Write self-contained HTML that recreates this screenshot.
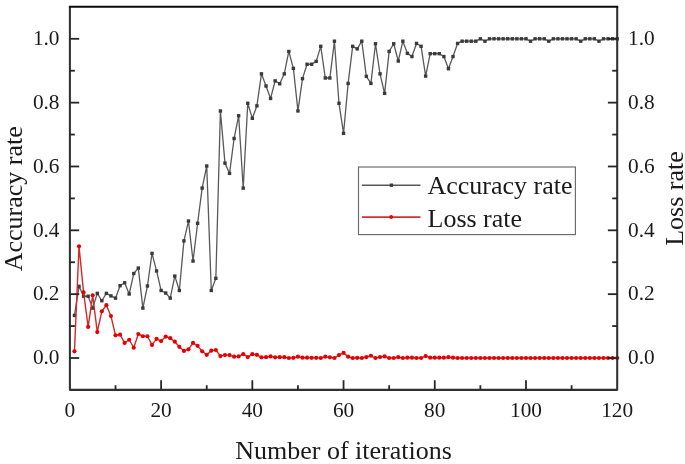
<!DOCTYPE html>
<html><head><meta charset="utf-8"><style>
html,body{margin:0;padding:0;background:#fff;}
body{width:685px;height:464px;overflow:hidden;}
svg{display:block;will-change:transform;}
.t{font-family:"Liberation Serif",serif;font-size:21.3px;fill:#1a1a1a;}
.T{font-family:"Liberation Serif",serif;font-size:26px;fill:#1a1a1a;}
</style></head><body>
<svg width="685" height="464" viewBox="0 0 685 464">
<rect width="685" height="464" fill="#fff"/>
<polyline points="74.46,315.44 79.02,286.32 83.58,296.24 88.14,296.24 92.70,308.08 97.27,293.36 101.83,300.72 106.39,293.36 110.95,295.92 115.51,298.16 120.07,285.68 124.63,282.80 129.19,294.00 133.75,273.52 138.31,268.08 142.87,308.08 147.43,286.00 152.00,253.36 156.56,270.96 161.12,290.48 165.68,293.04 170.24,298.16 174.80,276.08 179.36,290.48 183.92,240.88 188.48,221.04 193.04,261.04 197.60,223.28 202.16,188.08 206.73,166.00 211.29,290.48 215.85,278.32 220.41,110.96 224.97,163.12 229.53,173.36 234.09,138.48 238.65,115.76 243.21,188.08 247.77,103.28 252.33,118.32 256.89,105.84 261.46,73.84 266.02,86.00 270.58,98.48 275.14,80.88 279.70,83.76 284.26,73.84 288.82,51.44 293.38,68.40 297.94,110.96 302.50,78.64 307.06,64.24 311.62,64.24 316.19,61.36 320.75,46.32 325.31,78.00 329.87,78.00 334.43,41.20 338.99,103.28 343.55,133.36 348.11,83.44 352.67,46.32 357.23,48.88 361.79,41.20 366.35,76.40 370.92,83.44 375.48,43.76 380.04,73.84 384.60,93.36 389.16,51.44 393.72,43.76 398.28,61.04 402.84,41.20 407.40,53.36 411.96,56.56 416.52,43.44 421.08,46.32 425.65,76.08 430.21,53.68 434.77,53.68 439.33,53.68 443.89,56.56 448.45,68.72 453.01,56.56 457.57,43.44 462.13,41.20 466.69,41.20 471.25,41.20 475.81,41.20 480.38,38.80 484.94,41.20 489.50,38.80 494.06,38.80 498.62,38.80 503.18,38.80 507.74,38.80 512.30,38.80 516.86,38.80 521.42,38.80 525.98,38.80 530.54,41.20 535.11,38.80 539.67,38.80 544.23,38.80 548.79,41.20 553.35,38.80 557.91,38.80 562.47,38.80 567.03,38.80 571.59,38.80 576.15,38.80 580.71,41.20 585.27,38.80 589.84,38.80 594.40,38.80 598.96,41.20 603.52,38.80 608.08,38.80 612.64,38.80 617.20,38.80" fill="none" stroke="#595959" stroke-width="1.3" stroke-linejoin="round"/>
<rect x="72.76" y="313.74" width="3.4" height="3.4" fill="#3a3a3a"/><rect x="77.32" y="284.62" width="3.4" height="3.4" fill="#3a3a3a"/><rect x="81.88" y="294.54" width="3.4" height="3.4" fill="#3a3a3a"/><rect x="86.44" y="294.54" width="3.4" height="3.4" fill="#3a3a3a"/><rect x="91.00" y="306.38" width="3.4" height="3.4" fill="#3a3a3a"/><rect x="95.57" y="291.66" width="3.4" height="3.4" fill="#3a3a3a"/><rect x="100.13" y="299.02" width="3.4" height="3.4" fill="#3a3a3a"/><rect x="104.69" y="291.66" width="3.4" height="3.4" fill="#3a3a3a"/><rect x="109.25" y="294.22" width="3.4" height="3.4" fill="#3a3a3a"/><rect x="113.81" y="296.46" width="3.4" height="3.4" fill="#3a3a3a"/><rect x="118.37" y="283.98" width="3.4" height="3.4" fill="#3a3a3a"/><rect x="122.93" y="281.10" width="3.4" height="3.4" fill="#3a3a3a"/><rect x="127.49" y="292.30" width="3.4" height="3.4" fill="#3a3a3a"/><rect x="132.05" y="271.82" width="3.4" height="3.4" fill="#3a3a3a"/><rect x="136.61" y="266.38" width="3.4" height="3.4" fill="#3a3a3a"/><rect x="141.17" y="306.38" width="3.4" height="3.4" fill="#3a3a3a"/><rect x="145.73" y="284.30" width="3.4" height="3.4" fill="#3a3a3a"/><rect x="150.30" y="251.66" width="3.4" height="3.4" fill="#3a3a3a"/><rect x="154.86" y="269.26" width="3.4" height="3.4" fill="#3a3a3a"/><rect x="159.42" y="288.78" width="3.4" height="3.4" fill="#3a3a3a"/><rect x="163.98" y="291.34" width="3.4" height="3.4" fill="#3a3a3a"/><rect x="168.54" y="296.46" width="3.4" height="3.4" fill="#3a3a3a"/><rect x="173.10" y="274.38" width="3.4" height="3.4" fill="#3a3a3a"/><rect x="177.66" y="288.78" width="3.4" height="3.4" fill="#3a3a3a"/><rect x="182.22" y="239.18" width="3.4" height="3.4" fill="#3a3a3a"/><rect x="186.78" y="219.34" width="3.4" height="3.4" fill="#3a3a3a"/><rect x="191.34" y="259.34" width="3.4" height="3.4" fill="#3a3a3a"/><rect x="195.90" y="221.58" width="3.4" height="3.4" fill="#3a3a3a"/><rect x="200.46" y="186.38" width="3.4" height="3.4" fill="#3a3a3a"/><rect x="205.03" y="164.30" width="3.4" height="3.4" fill="#3a3a3a"/><rect x="209.59" y="288.78" width="3.4" height="3.4" fill="#3a3a3a"/><rect x="214.15" y="276.62" width="3.4" height="3.4" fill="#3a3a3a"/><rect x="218.71" y="109.26" width="3.4" height="3.4" fill="#3a3a3a"/><rect x="223.27" y="161.42" width="3.4" height="3.4" fill="#3a3a3a"/><rect x="227.83" y="171.66" width="3.4" height="3.4" fill="#3a3a3a"/><rect x="232.39" y="136.78" width="3.4" height="3.4" fill="#3a3a3a"/><rect x="236.95" y="114.06" width="3.4" height="3.4" fill="#3a3a3a"/><rect x="241.51" y="186.38" width="3.4" height="3.4" fill="#3a3a3a"/><rect x="246.07" y="101.58" width="3.4" height="3.4" fill="#3a3a3a"/><rect x="250.63" y="116.62" width="3.4" height="3.4" fill="#3a3a3a"/><rect x="255.19" y="104.14" width="3.4" height="3.4" fill="#3a3a3a"/><rect x="259.76" y="72.14" width="3.4" height="3.4" fill="#3a3a3a"/><rect x="264.32" y="84.30" width="3.4" height="3.4" fill="#3a3a3a"/><rect x="268.88" y="96.78" width="3.4" height="3.4" fill="#3a3a3a"/><rect x="273.44" y="79.18" width="3.4" height="3.4" fill="#3a3a3a"/><rect x="278.00" y="82.06" width="3.4" height="3.4" fill="#3a3a3a"/><rect x="282.56" y="72.14" width="3.4" height="3.4" fill="#3a3a3a"/><rect x="287.12" y="49.74" width="3.4" height="3.4" fill="#3a3a3a"/><rect x="291.68" y="66.70" width="3.4" height="3.4" fill="#3a3a3a"/><rect x="296.24" y="109.26" width="3.4" height="3.4" fill="#3a3a3a"/><rect x="300.80" y="76.94" width="3.4" height="3.4" fill="#3a3a3a"/><rect x="305.36" y="62.54" width="3.4" height="3.4" fill="#3a3a3a"/><rect x="309.92" y="62.54" width="3.4" height="3.4" fill="#3a3a3a"/><rect x="314.49" y="59.66" width="3.4" height="3.4" fill="#3a3a3a"/><rect x="319.05" y="44.62" width="3.4" height="3.4" fill="#3a3a3a"/><rect x="323.61" y="76.30" width="3.4" height="3.4" fill="#3a3a3a"/><rect x="328.17" y="76.30" width="3.4" height="3.4" fill="#3a3a3a"/><rect x="332.73" y="39.50" width="3.4" height="3.4" fill="#3a3a3a"/><rect x="337.29" y="101.58" width="3.4" height="3.4" fill="#3a3a3a"/><rect x="341.85" y="131.66" width="3.4" height="3.4" fill="#3a3a3a"/><rect x="346.41" y="81.74" width="3.4" height="3.4" fill="#3a3a3a"/><rect x="350.97" y="44.62" width="3.4" height="3.4" fill="#3a3a3a"/><rect x="355.53" y="47.18" width="3.4" height="3.4" fill="#3a3a3a"/><rect x="360.09" y="39.50" width="3.4" height="3.4" fill="#3a3a3a"/><rect x="364.65" y="74.70" width="3.4" height="3.4" fill="#3a3a3a"/><rect x="369.22" y="81.74" width="3.4" height="3.4" fill="#3a3a3a"/><rect x="373.78" y="42.06" width="3.4" height="3.4" fill="#3a3a3a"/><rect x="378.34" y="72.14" width="3.4" height="3.4" fill="#3a3a3a"/><rect x="382.90" y="91.66" width="3.4" height="3.4" fill="#3a3a3a"/><rect x="387.46" y="49.74" width="3.4" height="3.4" fill="#3a3a3a"/><rect x="392.02" y="42.06" width="3.4" height="3.4" fill="#3a3a3a"/><rect x="396.58" y="59.34" width="3.4" height="3.4" fill="#3a3a3a"/><rect x="401.14" y="39.50" width="3.4" height="3.4" fill="#3a3a3a"/><rect x="405.70" y="51.66" width="3.4" height="3.4" fill="#3a3a3a"/><rect x="410.26" y="54.86" width="3.4" height="3.4" fill="#3a3a3a"/><rect x="414.82" y="41.74" width="3.4" height="3.4" fill="#3a3a3a"/><rect x="419.38" y="44.62" width="3.4" height="3.4" fill="#3a3a3a"/><rect x="423.95" y="74.38" width="3.4" height="3.4" fill="#3a3a3a"/><rect x="428.51" y="51.98" width="3.4" height="3.4" fill="#3a3a3a"/><rect x="433.07" y="51.98" width="3.4" height="3.4" fill="#3a3a3a"/><rect x="437.63" y="51.98" width="3.4" height="3.4" fill="#3a3a3a"/><rect x="442.19" y="54.86" width="3.4" height="3.4" fill="#3a3a3a"/><rect x="446.75" y="67.02" width="3.4" height="3.4" fill="#3a3a3a"/><rect x="451.31" y="54.86" width="3.4" height="3.4" fill="#3a3a3a"/><rect x="455.87" y="41.74" width="3.4" height="3.4" fill="#3a3a3a"/><rect x="460.43" y="39.50" width="3.4" height="3.4" fill="#3a3a3a"/><rect x="464.99" y="39.50" width="3.4" height="3.4" fill="#3a3a3a"/><rect x="469.55" y="39.50" width="3.4" height="3.4" fill="#3a3a3a"/><rect x="474.11" y="39.50" width="3.4" height="3.4" fill="#3a3a3a"/><rect x="478.68" y="37.10" width="3.4" height="3.4" fill="#3a3a3a"/><rect x="483.24" y="39.50" width="3.4" height="3.4" fill="#3a3a3a"/><rect x="487.80" y="37.10" width="3.4" height="3.4" fill="#3a3a3a"/><rect x="492.36" y="37.10" width="3.4" height="3.4" fill="#3a3a3a"/><rect x="496.92" y="37.10" width="3.4" height="3.4" fill="#3a3a3a"/><rect x="501.48" y="37.10" width="3.4" height="3.4" fill="#3a3a3a"/><rect x="506.04" y="37.10" width="3.4" height="3.4" fill="#3a3a3a"/><rect x="510.60" y="37.10" width="3.4" height="3.4" fill="#3a3a3a"/><rect x="515.16" y="37.10" width="3.4" height="3.4" fill="#3a3a3a"/><rect x="519.72" y="37.10" width="3.4" height="3.4" fill="#3a3a3a"/><rect x="524.28" y="37.10" width="3.4" height="3.4" fill="#3a3a3a"/><rect x="528.84" y="39.50" width="3.4" height="3.4" fill="#3a3a3a"/><rect x="533.40" y="37.10" width="3.4" height="3.4" fill="#3a3a3a"/><rect x="537.97" y="37.10" width="3.4" height="3.4" fill="#3a3a3a"/><rect x="542.53" y="37.10" width="3.4" height="3.4" fill="#3a3a3a"/><rect x="547.09" y="39.50" width="3.4" height="3.4" fill="#3a3a3a"/><rect x="551.65" y="37.10" width="3.4" height="3.4" fill="#3a3a3a"/><rect x="556.21" y="37.10" width="3.4" height="3.4" fill="#3a3a3a"/><rect x="560.77" y="37.10" width="3.4" height="3.4" fill="#3a3a3a"/><rect x="565.33" y="37.10" width="3.4" height="3.4" fill="#3a3a3a"/><rect x="569.89" y="37.10" width="3.4" height="3.4" fill="#3a3a3a"/><rect x="574.45" y="37.10" width="3.4" height="3.4" fill="#3a3a3a"/><rect x="579.01" y="39.50" width="3.4" height="3.4" fill="#3a3a3a"/><rect x="583.57" y="37.10" width="3.4" height="3.4" fill="#3a3a3a"/><rect x="588.13" y="37.10" width="3.4" height="3.4" fill="#3a3a3a"/><rect x="592.70" y="37.10" width="3.4" height="3.4" fill="#3a3a3a"/><rect x="597.26" y="39.50" width="3.4" height="3.4" fill="#3a3a3a"/><rect x="601.82" y="37.10" width="3.4" height="3.4" fill="#3a3a3a"/><rect x="606.38" y="37.10" width="3.4" height="3.4" fill="#3a3a3a"/><rect x="610.94" y="37.10" width="3.4" height="3.4" fill="#3a3a3a"/><rect x="615.50" y="37.10" width="3.4" height="3.4" fill="#3a3a3a"/>
<polyline points="74.46,351.28 79.02,246.32 83.58,292.40 88.14,326.96 92.70,295.28 97.27,332.08 101.83,311.28 106.39,305.20 110.95,316.08 115.51,335.28 120.07,334.64 124.63,342.96 129.19,339.76 133.75,347.76 138.31,334.00 142.87,336.24 147.43,336.24 152.00,344.88 156.56,338.80 161.12,341.04 165.68,336.56 170.24,338.16 174.80,341.68 179.36,346.80 183.92,350.96 188.48,349.36 193.04,342.96 197.60,345.84 202.16,351.28 206.73,354.80 211.29,350.64 215.85,350.00 220.41,356.08 224.97,355.12 229.53,355.12 234.09,356.72 238.65,356.40 243.21,354.16 247.77,357.04 252.33,354.16 256.89,354.80 261.46,357.36 266.02,357.20 270.58,356.40 275.14,357.36 279.70,357.20 284.26,357.20 288.82,358.00 293.38,357.84 297.94,356.72 302.50,357.68 307.06,357.68 311.62,357.84 316.19,357.84 320.75,358.00 325.31,356.72 329.87,357.36 334.43,358.00 338.99,355.12 343.55,352.88 348.11,356.72 352.67,358.00 357.23,357.84 361.79,358.00 366.35,357.04 370.92,355.76 375.48,358.00 380.04,357.04 384.60,356.40 389.16,358.00 393.72,358.00 398.28,357.20 402.84,358.00 407.40,357.68 411.96,357.68 416.52,358.00 421.08,358.00 425.65,356.08 430.21,357.68 434.77,357.68 439.33,357.68 443.89,357.68 448.45,357.20 453.01,357.68 457.57,358.00 462.13,358.00 466.69,358.00 471.25,358.00 475.81,358.00 480.38,358.00 484.94,358.00 489.50,358.00 494.06,358.00 498.62,358.00 503.18,358.00 507.74,358.00 512.30,358.00 516.86,358.00 521.42,358.00 525.98,358.00 530.54,358.00 535.11,358.00 539.67,358.00 544.23,358.00 548.79,358.00 553.35,358.00 557.91,358.00 562.47,358.00 567.03,358.00 571.59,358.00 576.15,358.00 580.71,358.00 585.27,358.00 589.84,358.00 594.40,358.00 598.96,358.00 603.52,358.00 608.08,358.00 612.64,358.00 617.20,358.00" fill="none" stroke="#d62828" stroke-width="1.4" stroke-linejoin="round"/>
<circle cx="74.46" cy="351.28" r="2.1" fill="#e60000"/><circle cx="79.02" cy="246.32" r="2.1" fill="#e60000"/><circle cx="83.58" cy="292.40" r="2.1" fill="#e60000"/><circle cx="88.14" cy="326.96" r="2.1" fill="#e60000"/><circle cx="92.70" cy="295.28" r="2.1" fill="#e60000"/><circle cx="97.27" cy="332.08" r="2.1" fill="#e60000"/><circle cx="101.83" cy="311.28" r="2.1" fill="#e60000"/><circle cx="106.39" cy="305.20" r="2.1" fill="#e60000"/><circle cx="110.95" cy="316.08" r="2.1" fill="#e60000"/><circle cx="115.51" cy="335.28" r="2.1" fill="#e60000"/><circle cx="120.07" cy="334.64" r="2.1" fill="#e60000"/><circle cx="124.63" cy="342.96" r="2.1" fill="#e60000"/><circle cx="129.19" cy="339.76" r="2.1" fill="#e60000"/><circle cx="133.75" cy="347.76" r="2.1" fill="#e60000"/><circle cx="138.31" cy="334.00" r="2.1" fill="#e60000"/><circle cx="142.87" cy="336.24" r="2.1" fill="#e60000"/><circle cx="147.43" cy="336.24" r="2.1" fill="#e60000"/><circle cx="152.00" cy="344.88" r="2.1" fill="#e60000"/><circle cx="156.56" cy="338.80" r="2.1" fill="#e60000"/><circle cx="161.12" cy="341.04" r="2.1" fill="#e60000"/><circle cx="165.68" cy="336.56" r="2.1" fill="#e60000"/><circle cx="170.24" cy="338.16" r="2.1" fill="#e60000"/><circle cx="174.80" cy="341.68" r="2.1" fill="#e60000"/><circle cx="179.36" cy="346.80" r="2.1" fill="#e60000"/><circle cx="183.92" cy="350.96" r="2.1" fill="#e60000"/><circle cx="188.48" cy="349.36" r="2.1" fill="#e60000"/><circle cx="193.04" cy="342.96" r="2.1" fill="#e60000"/><circle cx="197.60" cy="345.84" r="2.1" fill="#e60000"/><circle cx="202.16" cy="351.28" r="2.1" fill="#e60000"/><circle cx="206.73" cy="354.80" r="2.1" fill="#e60000"/><circle cx="211.29" cy="350.64" r="2.1" fill="#e60000"/><circle cx="215.85" cy="350.00" r="2.1" fill="#e60000"/><circle cx="220.41" cy="356.08" r="2.1" fill="#e60000"/><circle cx="224.97" cy="355.12" r="2.1" fill="#e60000"/><circle cx="229.53" cy="355.12" r="2.1" fill="#e60000"/><circle cx="234.09" cy="356.72" r="2.1" fill="#e60000"/><circle cx="238.65" cy="356.40" r="2.1" fill="#e60000"/><circle cx="243.21" cy="354.16" r="2.1" fill="#e60000"/><circle cx="247.77" cy="357.04" r="2.1" fill="#e60000"/><circle cx="252.33" cy="354.16" r="2.1" fill="#e60000"/><circle cx="256.89" cy="354.80" r="2.1" fill="#e60000"/><circle cx="261.46" cy="357.36" r="2.1" fill="#e60000"/><circle cx="266.02" cy="357.20" r="2.1" fill="#e60000"/><circle cx="270.58" cy="356.40" r="2.1" fill="#e60000"/><circle cx="275.14" cy="357.36" r="2.1" fill="#e60000"/><circle cx="279.70" cy="357.20" r="2.1" fill="#e60000"/><circle cx="284.26" cy="357.20" r="2.1" fill="#e60000"/><circle cx="288.82" cy="358.00" r="2.1" fill="#e60000"/><circle cx="293.38" cy="357.84" r="2.1" fill="#e60000"/><circle cx="297.94" cy="356.72" r="2.1" fill="#e60000"/><circle cx="302.50" cy="357.68" r="2.1" fill="#e60000"/><circle cx="307.06" cy="357.68" r="2.1" fill="#e60000"/><circle cx="311.62" cy="357.84" r="2.1" fill="#e60000"/><circle cx="316.19" cy="357.84" r="2.1" fill="#e60000"/><circle cx="320.75" cy="358.00" r="2.1" fill="#e60000"/><circle cx="325.31" cy="356.72" r="2.1" fill="#e60000"/><circle cx="329.87" cy="357.36" r="2.1" fill="#e60000"/><circle cx="334.43" cy="358.00" r="2.1" fill="#e60000"/><circle cx="338.99" cy="355.12" r="2.1" fill="#e60000"/><circle cx="343.55" cy="352.88" r="2.1" fill="#e60000"/><circle cx="348.11" cy="356.72" r="2.1" fill="#e60000"/><circle cx="352.67" cy="358.00" r="2.1" fill="#e60000"/><circle cx="357.23" cy="357.84" r="2.1" fill="#e60000"/><circle cx="361.79" cy="358.00" r="2.1" fill="#e60000"/><circle cx="366.35" cy="357.04" r="2.1" fill="#e60000"/><circle cx="370.92" cy="355.76" r="2.1" fill="#e60000"/><circle cx="375.48" cy="358.00" r="2.1" fill="#e60000"/><circle cx="380.04" cy="357.04" r="2.1" fill="#e60000"/><circle cx="384.60" cy="356.40" r="2.1" fill="#e60000"/><circle cx="389.16" cy="358.00" r="2.1" fill="#e60000"/><circle cx="393.72" cy="358.00" r="2.1" fill="#e60000"/><circle cx="398.28" cy="357.20" r="2.1" fill="#e60000"/><circle cx="402.84" cy="358.00" r="2.1" fill="#e60000"/><circle cx="407.40" cy="357.68" r="2.1" fill="#e60000"/><circle cx="411.96" cy="357.68" r="2.1" fill="#e60000"/><circle cx="416.52" cy="358.00" r="2.1" fill="#e60000"/><circle cx="421.08" cy="358.00" r="2.1" fill="#e60000"/><circle cx="425.65" cy="356.08" r="2.1" fill="#e60000"/><circle cx="430.21" cy="357.68" r="2.1" fill="#e60000"/><circle cx="434.77" cy="357.68" r="2.1" fill="#e60000"/><circle cx="439.33" cy="357.68" r="2.1" fill="#e60000"/><circle cx="443.89" cy="357.68" r="2.1" fill="#e60000"/><circle cx="448.45" cy="357.20" r="2.1" fill="#e60000"/><circle cx="453.01" cy="357.68" r="2.1" fill="#e60000"/><circle cx="457.57" cy="358.00" r="2.1" fill="#e60000"/><circle cx="462.13" cy="358.00" r="2.1" fill="#e60000"/><circle cx="466.69" cy="358.00" r="2.1" fill="#e60000"/><circle cx="471.25" cy="358.00" r="2.1" fill="#e60000"/><circle cx="475.81" cy="358.00" r="2.1" fill="#e60000"/><circle cx="480.38" cy="358.00" r="2.1" fill="#e60000"/><circle cx="484.94" cy="358.00" r="2.1" fill="#e60000"/><circle cx="489.50" cy="358.00" r="2.1" fill="#e60000"/><circle cx="494.06" cy="358.00" r="2.1" fill="#e60000"/><circle cx="498.62" cy="358.00" r="2.1" fill="#e60000"/><circle cx="503.18" cy="358.00" r="2.1" fill="#e60000"/><circle cx="507.74" cy="358.00" r="2.1" fill="#e60000"/><circle cx="512.30" cy="358.00" r="2.1" fill="#e60000"/><circle cx="516.86" cy="358.00" r="2.1" fill="#e60000"/><circle cx="521.42" cy="358.00" r="2.1" fill="#e60000"/><circle cx="525.98" cy="358.00" r="2.1" fill="#e60000"/><circle cx="530.54" cy="358.00" r="2.1" fill="#e60000"/><circle cx="535.11" cy="358.00" r="2.1" fill="#e60000"/><circle cx="539.67" cy="358.00" r="2.1" fill="#e60000"/><circle cx="544.23" cy="358.00" r="2.1" fill="#e60000"/><circle cx="548.79" cy="358.00" r="2.1" fill="#e60000"/><circle cx="553.35" cy="358.00" r="2.1" fill="#e60000"/><circle cx="557.91" cy="358.00" r="2.1" fill="#e60000"/><circle cx="562.47" cy="358.00" r="2.1" fill="#e60000"/><circle cx="567.03" cy="358.00" r="2.1" fill="#e60000"/><circle cx="571.59" cy="358.00" r="2.1" fill="#e60000"/><circle cx="576.15" cy="358.00" r="2.1" fill="#e60000"/><circle cx="580.71" cy="358.00" r="2.1" fill="#e60000"/><circle cx="585.27" cy="358.00" r="2.1" fill="#e60000"/><circle cx="589.84" cy="358.00" r="2.1" fill="#e60000"/><circle cx="594.40" cy="358.00" r="2.1" fill="#e60000"/><circle cx="598.96" cy="358.00" r="2.1" fill="#e60000"/><circle cx="603.52" cy="358.00" r="2.1" fill="#e60000"/><circle cx="608.08" cy="358.00" r="2.1" fill="#e60000"/><circle cx="612.64" cy="358.00" r="2.1" fill="#e60000"/><circle cx="617.20" cy="358.00" r="2.1" fill="#e60000"/>
<path d="M69.9,6.7 V389.85 H617.2 V6.7" fill="none" stroke="#303030" stroke-width="2.05" stroke-linejoin="round"/>
<line x1="68.9" y1="6.7" x2="618.2" y2="6.7" stroke="#0a0a0a" stroke-width="2.05"/>
<line x1="115.51" y1="389.85" x2="115.51" y2="385.25" stroke="#262626" stroke-width="1.8"/><line x1="161.12" y1="389.85" x2="161.12" y2="380.25" stroke="#262626" stroke-width="1.8"/><line x1="206.73" y1="389.85" x2="206.73" y2="385.25" stroke="#262626" stroke-width="1.8"/><line x1="252.33" y1="389.85" x2="252.33" y2="380.25" stroke="#262626" stroke-width="1.8"/><line x1="297.94" y1="389.85" x2="297.94" y2="385.25" stroke="#262626" stroke-width="1.8"/><line x1="343.55" y1="389.85" x2="343.55" y2="380.25" stroke="#262626" stroke-width="1.8"/><line x1="389.16" y1="389.85" x2="389.16" y2="385.25" stroke="#262626" stroke-width="1.8"/><line x1="434.77" y1="389.85" x2="434.77" y2="380.25" stroke="#262626" stroke-width="1.8"/><line x1="480.38" y1="389.85" x2="480.38" y2="385.25" stroke="#262626" stroke-width="1.8"/><line x1="525.98" y1="389.85" x2="525.98" y2="380.25" stroke="#262626" stroke-width="1.8"/><line x1="571.59" y1="389.85" x2="571.59" y2="385.25" stroke="#262626" stroke-width="1.8"/><line x1="69.9" y1="358.00" x2="79.2" y2="358.00" stroke="#262626" stroke-width="1.8"/><line x1="617.2" y1="358.00" x2="607.9000000000001" y2="358.00" stroke="#262626" stroke-width="1.8"/><line x1="69.9" y1="326.08" x2="74.9" y2="326.08" stroke="#262626" stroke-width="1.8"/><line x1="617.2" y1="326.08" x2="612.2" y2="326.08" stroke="#262626" stroke-width="1.8"/><line x1="69.9" y1="294.16" x2="79.2" y2="294.16" stroke="#262626" stroke-width="1.8"/><line x1="617.2" y1="294.16" x2="607.9000000000001" y2="294.16" stroke="#262626" stroke-width="1.8"/><line x1="69.9" y1="262.24" x2="74.9" y2="262.24" stroke="#262626" stroke-width="1.8"/><line x1="617.2" y1="262.24" x2="612.2" y2="262.24" stroke="#262626" stroke-width="1.8"/><line x1="69.9" y1="230.32" x2="79.2" y2="230.32" stroke="#262626" stroke-width="1.8"/><line x1="617.2" y1="230.32" x2="607.9000000000001" y2="230.32" stroke="#262626" stroke-width="1.8"/><line x1="69.9" y1="198.40" x2="74.9" y2="198.40" stroke="#262626" stroke-width="1.8"/><line x1="617.2" y1="198.40" x2="612.2" y2="198.40" stroke="#262626" stroke-width="1.8"/><line x1="69.9" y1="166.48" x2="79.2" y2="166.48" stroke="#262626" stroke-width="1.8"/><line x1="617.2" y1="166.48" x2="607.9000000000001" y2="166.48" stroke="#262626" stroke-width="1.8"/><line x1="69.9" y1="134.56" x2="74.9" y2="134.56" stroke="#262626" stroke-width="1.8"/><line x1="617.2" y1="134.56" x2="612.2" y2="134.56" stroke="#262626" stroke-width="1.8"/><line x1="69.9" y1="102.64" x2="79.2" y2="102.64" stroke="#262626" stroke-width="1.8"/><line x1="617.2" y1="102.64" x2="607.9000000000001" y2="102.64" stroke="#262626" stroke-width="1.8"/><line x1="69.9" y1="70.72" x2="74.9" y2="70.72" stroke="#262626" stroke-width="1.8"/><line x1="617.2" y1="70.72" x2="612.2" y2="70.72" stroke="#262626" stroke-width="1.8"/><line x1="69.9" y1="38.80" x2="79.2" y2="38.80" stroke="#262626" stroke-width="1.8"/><line x1="617.2" y1="38.80" x2="607.9000000000001" y2="38.80" stroke="#262626" stroke-width="1.8"/>
<text x="69.90" y="417.1" text-anchor="middle" class="t">0</text><text x="161.12" y="417.1" text-anchor="middle" class="t">20</text><text x="252.33" y="417.1" text-anchor="middle" class="t">40</text><text x="343.55" y="417.1" text-anchor="middle" class="t">60</text><text x="434.77" y="417.1" text-anchor="middle" class="t">80</text><text x="525.98" y="417.1" text-anchor="middle" class="t">100</text><text x="617.20" y="417.1" text-anchor="middle" class="t">120</text><text x="59.5" y="364.30" text-anchor="end" class="t">0.0</text><text x="628" y="364.30" text-anchor="start" class="t">0.0</text><text x="59.5" y="300.46" text-anchor="end" class="t">0.2</text><text x="628" y="300.46" text-anchor="start" class="t">0.2</text><text x="59.5" y="236.62" text-anchor="end" class="t">0.4</text><text x="628" y="236.62" text-anchor="start" class="t">0.4</text><text x="59.5" y="172.78" text-anchor="end" class="t">0.6</text><text x="628" y="172.78" text-anchor="start" class="t">0.6</text><text x="59.5" y="108.94" text-anchor="end" class="t">0.8</text><text x="628" y="108.94" text-anchor="start" class="t">0.8</text><text x="59.5" y="45.10" text-anchor="end" class="t">1.0</text><text x="628" y="45.10" text-anchor="start" class="t">1.0</text>
<text x="343.5" y="458.8" text-anchor="middle" class="T">Number of iterations</text>
<text transform="translate(21.7,198.8) rotate(-90)" text-anchor="middle" class="T">Accuracy rate</text>
<text transform="translate(682.8,198.5) rotate(-90)" text-anchor="middle" class="T">Loss rate</text>
<rect x="358.5" y="167.0" width="216.9" height="67.6" fill="#fff" stroke="#6a6a6a" stroke-width="1.15"/>
<line x1="362" y1="185.2" x2="420.5" y2="185.2" stroke="#585858" stroke-width="1.5"/>
<rect x="389.7" y="183.5" width="3.4" height="3.4" fill="#3a3a3a"/>
<line x1="362" y1="217.1" x2="420.5" y2="217.1" stroke="#cc3333" stroke-width="1.6"/>
<circle cx="391.2" cy="217" r="1.9" fill="#e60000"/>
<text x="427.5" y="194.2" class="T">Accuracy rate</text>
<text x="427.5" y="226.6" class="T">Loss rate</text>
</svg>
</body></html>
